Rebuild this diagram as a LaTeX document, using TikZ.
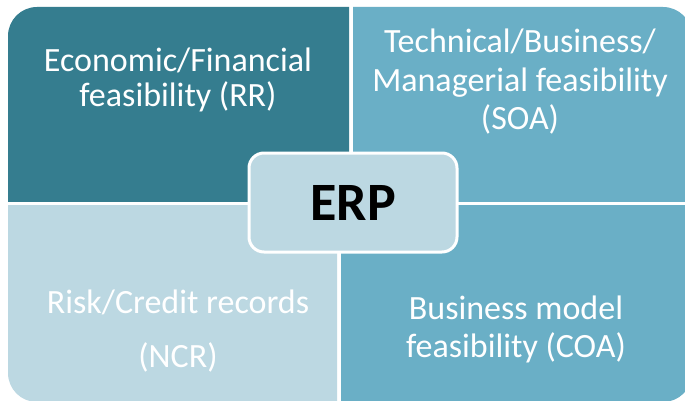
\documentclass[tikz,border=0pt]{standalone}
\usepackage{fontspec}
\setmainfont{Carlito}
\definecolor{cTL}{HTML}{357D8F}
\definecolor{cTR}{HTML}{6AAFC6}
\definecolor{cBL}{HTML}{BCD8E2}
\tikzset{
  qtext/.style={text=white, anchor=base, inner sep=0pt, font=\fontsize{34}{38}\selectfont},
  hub/.style={draw=white, line width=3pt, fill=cBL, rounded corners=15pt,
    minimum width=208pt, minimum height=99pt, inner sep=0pt,
    font=\fontsize{54}{60}\selectfont\bfseries, text=black}
}
\begin{document}
\begin{tikzpicture}[x=1pt,y=-1pt]
\useasboundingbox (0,0) rectangle (685,401);
\fill[white] (0,0) rectangle (685,401);
\clip (0,0) rectangle (685,401);
% quadrants
\begin{scope}
  \clip (8,7) rectangle (349,201);
  \fill[cTL, rounded corners=29pt] (8,7) rectangle (420,280);
\end{scope}
\begin{scope}
  \clip (353,7) rectangle (692,201);
  \fill[cTR, rounded corners=29pt] (280,7) rectangle (692,280);
\end{scope}
\begin{scope}
  \clip (8,205) rectangle (337,402);
  \fill[cBL, rounded corners=29pt] (8,130) rectangle (420,402);
\end{scope}
\begin{scope}
  \clip (341,205) rectangle (692,402);
  \fill[cTR, rounded corners=29pt] (270,130) rectangle (692,402);
\end{scope}
% texts
\node[qtext] (tl1) at (178,72) {Economic/Financial};
\node[qtext] (tl2) at (178,107) {feasibility (RR)};
\node[qtext] (tr1) at (520,53) {Technical/Business/};
\node[qtext] (tr2) at (520,92) {Managerial feasibility};
\node[qtext] (tr3) at (520,130) {(SOA)};
\node[qtext] (bl1) at (178,313) {Risk/Credit records};
\node[qtext] (bl2) at (178,367) {(NCR)};
\node[qtext] (br1) at (516,319) {Business model};
\node[qtext] (br2) at (516,357) {feasibility (COA)};
% hub
\node[hub] (erp) at (353,202.5) {ERP};
\end{tikzpicture}
\end{document}
